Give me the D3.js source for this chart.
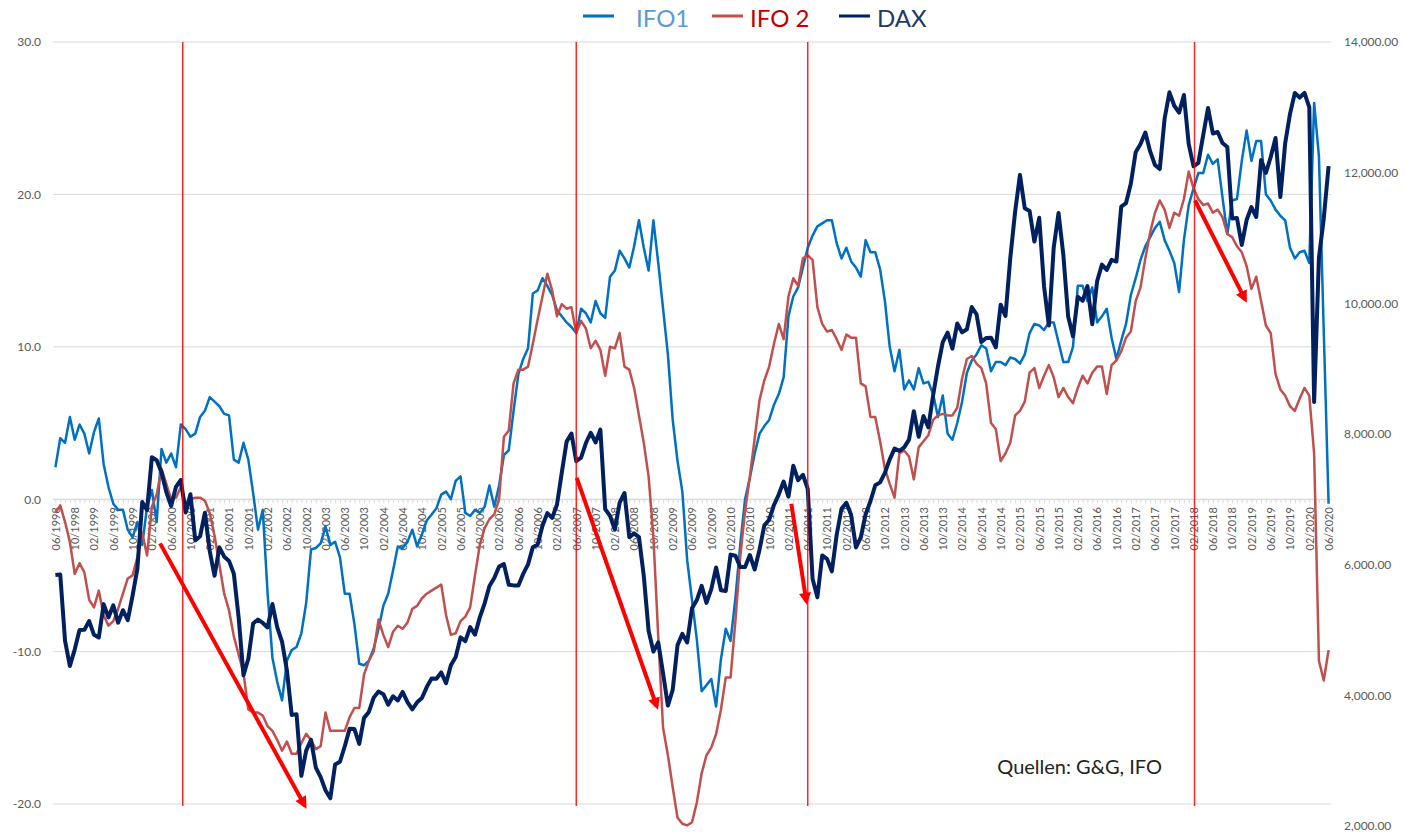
<!DOCTYPE html>
<html>
  <head>
    <meta charset="utf-8" />
    <style>
      body { margin: 0; background: #fff; }
      #chart { width: 1405px; height: 832px; }
      text { font-family: Lato, "Open Sans", sans-serif; }
      .axis text { fill: #595959; }
      .axis path, .axis line { stroke: #d9d9d9; }
    </style>
  </head>
  <body>
    <div id="chart"></div>
    <script src="https://d3js.org/d3.v7.min.js"></script>
    <script>
    // categories: monthly from 06/1998 to 06/2020
    var months = [];
    for (var y = 1998; y <= 2020; y++) {
      for (var m = 1; m <= 12; m++) {
        if ((y == 1998 && m < 6) || (y == 2020 && m > 6)) continue;
        months.push((m < 10 ? '0' + m : '' + m) + '/' + y);
      }
    }

    var ifo1 = [
      2.1,4.0,3.7,5.4,3.9,4.9,4.3,3.0,4.4,5.3,
      2.3,0.8,-0.3,-0.7,-0.7,-2.0,-2.5,-1.5,-3.0,-0.5,
      0.6,-1.5,3.3,2.4,3.0,2.1,4.9,4.6,4.1,4.3,
      5.4,5.8,6.7,6.4,6.1,5.6,5.5,2.6,2.4,3.7,
      2.6,0.4,-2.0,-0.7,-6.2,-10.4,-12.0,-13.2,-10.6,-9.9,
      -9.7,-8.8,-6.8,-3.3,-3.2,-2.9,-1.8,-3.0,-2.8,-3.8,
      -6.2,-6.2,-8.2,-10.8,-10.9,-10.6,-9.8,-8.5,-7.0,-6.2,
      -4.7,-3.1,-3.2,-2.8,-2.0,-3.1,-2.3,-1.4,-1.0,-0.6,
      0.3,0.5,0.0,1.2,1.5,-0.9,-1.1,-0.7,-0.9,-0.5,
      0.9,-0.5,0.9,2.9,3.2,5.8,8.2,9.2,9.9,13.5,
      13.7,14.5,14.0,13.4,12.4,12.0,11.6,11.3,10.9,12.5,
      12.2,11.6,13.0,12.2,11.9,14.6,15.0,16.3,15.8,15.2,
      16.6,18.3,16.5,15.0,18.3,15.5,12.5,9.5,5.2,2.5,
      0.5,-4.0,-6.6,-9.2,-12.6,-12.2,-11.8,-13.6,-10.5,-8.5,
      -9.3,-6.5,-3.0,0.0,1.4,3.0,4.3,4.8,5.2,6.2,
      6.9,8.0,12.0,13.3,13.9,15.2,16.5,17.3,17.9,18.1,
      18.3,18.3,16.8,15.8,16.5,15.6,15.2,14.6,17.0,16.2,
      16.2,15.1,13.0,10.0,8.4,9.8,7.2,7.8,7.2,8.6,
      7.6,7.7,6.9,5.4,6.8,4.3,3.9,5.0,6.4,8.3,
      9.1,9.5,10.1,9.9,8.4,9.0,9.0,8.8,9.3,9.2,
      8.9,9.5,10.9,11.5,11.4,11.1,11.6,11.6,10.3,9.0,
      9.0,10.0,14.0,14.0,13.0,13.9,11.6,12.0,12.5,10.6,
      9.2,10.4,11.5,13.4,14.5,15.7,16.6,17.2,17.8,18.2,
      17.0,16.3,15.5,13.6,17.0,19.3,20.4,21.4,21.4,22.6,
      22.0,22.3,19.8,17.4,19.6,19.7,22.2,24.2,22.2,23.5,
      23.5,20.0,19.6,19.0,18.6,18.3,16.5,15.8,16.2,16.3,
      15.5,26.0,22.5,11.0,-0.3
    ];

    var ifo2 = [
      -0.9,-0.4,-1.5,-2.8,-4.9,-4.2,-4.8,-6.6,-7.1,-6.0,
      -7.6,-8.3,-8.0,-7.2,-6.2,-5.2,-5.0,-3.8,-2.2,-3.7,
      -0.5,0.3,2.0,1.0,0.0,0.1,0.8,-0.3,0.0,0.1,
      0.1,-0.1,-0.9,-2.4,-4.3,-6.2,-7.3,-9.0,-10.2,-11.4,
      -13.8,-14.0,-14.0,-14.2,-14.9,-15.2,-15.8,-16.5,-15.9,-16.7,
      -16.7,-16.0,-15.4,-15.8,-16.4,-16.2,-14.0,-15.2,-15.2,-15.2,
      -15.2,-14.3,-13.7,-13.7,-11.5,-10.6,-10.0,-7.9,-8.9,-9.7,
      -8.7,-8.3,-8.5,-8.1,-7.2,-7.0,-6.5,-6.2,-6.0,-5.8,
      -5.6,-7.6,-8.9,-8.8,-8.0,-7.7,-7.1,-5.0,-3.0,-1.9,
      -1.3,-1.0,0.0,4.1,4.5,7.6,8.5,8.5,8.7,10.2,
      11.8,13.3,14.8,13.7,12.0,12.8,12.5,12.6,10.9,11.7,
      11.2,9.9,10.4,9.8,8.1,10.0,9.9,10.9,8.7,8.5,
      7.3,5.5,3.7,1.5,-2.5,-9.0,-15.0,-16.8,-18.9,-20.9,
      -21.3,-21.4,-21.2,-19.9,-18.0,-16.8,-16.3,-15.4,-13.8,-11.7,
      -11.7,-8.0,-3.8,-0.8,1.5,4.0,6.5,7.8,8.7,10.2,
      11.5,10.5,13.3,14.5,14.0,15.8,16.0,15.7,12.6,11.5,
      11.0,11.1,10.5,9.8,10.8,10.6,10.6,7.6,7.4,5.4,
      5.4,3.8,2.0,1.0,0.1,3.0,3.2,2.8,1.3,3.4,
      3.8,4.2,5.2,5.5,5.6,5.5,5.5,6.0,7.9,9.2,
      9.4,8.9,8.6,7.6,5.0,4.6,2.5,3.0,3.7,5.5,
      5.8,6.4,8.3,8.6,7.3,8.1,8.8,8.0,6.7,7.3,
      6.7,6.3,7.3,8.1,7.6,8.3,8.7,8.7,6.9,8.8,
      9.1,9.7,10.6,11.0,13.0,13.9,15.8,17.5,18.8,19.6,
      19.0,17.8,18.8,18.6,19.7,21.5,20.4,19.7,19.3,19.4,
      18.8,19.0,18.5,17.4,17.2,16.6,16.2,15.3,13.8,14.6,
      13.0,11.4,10.9,8.2,7.2,6.8,6.1,5.8,6.6,7.3,
      6.8,3.0,-10.6,-11.9,-9.9
    ];

    var dax = [
      5842,5850,4834,4450,4700,5000,5002,5137,4926,4884,
      5396,5193,5378,5112,5303,5150,5526,5939,6958,6835,
      7644,7599,7414,7110,6898,7192,7296,6798,7078,6372,
      6434,6795,6208,5830,6265,6123,6058,5861,5188,4308,
      4560,5100,5160,5108,5039,5397,5041,4818,4383,3700,
      3712,2769,3153,3320,2893,2748,2547,2424,2942,2983,
      3221,3487,3484,3257,3655,3746,3965,4058,4018,3856,
      3985,3921,4053,3895,3785,3893,3960,4126,4256,4255,
      4350,4185,4461,4587,4887,4830,5044,4929,5193,5408,
      5674,5797,5970,6009,5692,5683,5682,5859,6004,6268,
      6309,6597,6789,6716,6917,7409,7883,8007,7584,7638,
      7862,8019,7871,8067,6851,6748,6535,6949,7097,6418,
      6480,6422,5831,4988,4669,4810,4338,3843,4085,4769,
      4941,4809,5332,5458,5675,5415,5625,5957,5608,5598,
      6154,6136,5965,5966,6148,5925,6229,6601,6688,6914,
      7077,7272,7041,7514,7294,7376,7159,5785,5502,6141,
      6089,5898,6458,6856,6947,6761,6264,6416,6772,6971,
      7216,7260,7406,7612,7776,7741,7795,7914,8349,7959,
      8276,8103,8594,9033,9405,9552,9306,9692,9556,9603,
      9943,9833,9407,9470,9474,9327,9980,9806,10694,11402,
      11966,11454,11413,10945,11309,10259,9660,10850,11382,10743,
      9798,9495,10100,10039,10263,9680,10337,10593,10511,10665,
      10640,11481,11535,11834,12313,12438,12615,12325,12118,12056,
      12829,13230,13024,12918,13189,12436,12097,12150,12576,12990,
      12600,12622,12454,12392,11300,11306,10893,11275,11474,11321,
      12194,11995,12240,12530,11627,12450,12900,13220,13150,13220,
      13000,8490,10700,11300,12100
    ];

    var leftTicks = [-20, -10, 0, 10, 20, 30];
    var rightTicks = [2000, 4000, 6000, 8000, 10000, 12000, 14000];

    // red markers, in month index units
    var markerMonths = [26.4, 108, 156, 236.2];
    // arrows: [fromIndex, fromValue, toIndex, toValue] on the left axis
    var arrows = [
      [21.7, -2.9, 51.7, -20.1],
      [108.1, 1.4, 124.7, -13.6],
      [152.6, -0.3, 155.7, -6.7],
      [236.3, 19.6, 246.7, 13.1]
    ];

    var series = [
      { name: 'IFO1',  values: ifo1, axis: 'left',  color: '#0070c0', width: 2.5 },
      { name: 'IFO 2', values: ifo2, axis: 'left',  color: '#c0504d', width: 2.5 },
      { name: 'DAX',   values: dax,  axis: 'right', color: '#002060', width: 4 }
    ];

    var width = 1405,
        height = 832,
        left = 53,
        right = 1331;

    var x = d3.scalePoint()
      .domain(months)
      .range([left, right])
      .padding(0.5);

    // month index -> pixel, for annotations
    var xi = d3.scaleLinear()
      .domain([0, months.length - 1])
      .range([x(months[0]), x(months[months.length - 1])]);

    var yL = d3.scaleLinear().domain([-20, 30]).range([804, 42]);
    var yR = d3.scaleLinear().domain([2000, 14000]).range([826, 42]);

    var svg = d3.select('#chart')
      .append('svg')
      .attr('width', width)
      .attr('height', height);

    svg.append('rect').attr('width', width).attr('height', height).attr('fill', '#fff');

    // gridlines
    svg.append('g')
      .selectAll('line')
      .data(leftTicks)
      .enter().append('line')
      .attr('x1', left).attr('x2', right)
      .attr('y1', function(d) { return yL(d); })
      .attr('y2', function(d) { return yL(d); })
      .attr('stroke', '#d9d9d9')
      .attr('stroke-width', 1);

    // left axis
    svg.append('g')
      .attr('class', 'axis')
      .attr('transform', 'translate(' + left + ',0)')
      .call(d3.axisLeft(yL).tickValues(leftTicks).tickSize(0).tickPadding(12)
        .tickFormat(function(d) { return d.toFixed(1); }))
      .call(function(g) { g.select('.domain').remove(); })
      .selectAll('text').style('font-size', '12px');

    // right axis
    svg.append('g')
      .attr('class', 'axis')
      .attr('transform', 'translate(' + right + ',0)')
      .call(d3.axisRight(yR).tickValues(rightTicks).tickSize(0).tickPadding(13)
        .tickFormat(d3.format(',.2f')))
      .call(function(g) { g.select('.domain').remove(); })
      .selectAll('text').style('font-size', '12px');

    // category axis on the zero line
    var xAxis = svg.append('g')
      .attr('class', 'axis')
      .attr('transform', 'translate(0,' + yL(0) + ')')
      .call(d3.axisBottom(x).tickSize(4).tickSizeOuter(0)
        .tickFormat(function(d, i) { return i % 4 == 0 ? d : ''; }));

    xAxis.selectAll('text')
      .style('font-size', '11px')
      .attr('transform', 'rotate(-90)')
      .attr('text-anchor', 'end')
      .attr('x', -8)
      .attr('y', 0)
      .attr('dy', '0.35em');

    // series lines
    series.forEach(function(s) {
      var yScale = s.axis == 'left' ? yL : yR;
      var line = d3.line()
        .x(function(d, i) { return x(months[i]); })
        .y(function(d) { return yScale(d); });
      svg.append('path')
        .datum(s.values)
        .attr('d', line)
        .attr('fill', 'none')
        .attr('stroke', s.color)
        .attr('stroke-width', s.width)
        .attr('stroke-linejoin', 'round');
    });

    // red vertical markers
    svg.append('g')
      .selectAll('line')
      .data(markerMonths)
      .enter().append('line')
      .attr('x1', function(d) { return xi(d); })
      .attr('x2', function(d) { return xi(d); })
      .attr('y1', yL(30))
      .attr('y2', yL(-20) + 2)
      .attr('stroke', '#ff0000')
      .attr('stroke-opacity', 0.85)
      .attr('stroke-width', 1.5);

    // arrows
    svg.append('defs').append('marker')
      .attr('id', 'head')
      .attr('viewBox', '0 0 10 10')
      .attr('refX', 7)
      .attr('refY', 5)
      .attr('markerWidth', 3.2)
      .attr('markerHeight', 3)
      .attr('orient', 'auto')
      .append('path')
      .attr('d', 'M0,0L10,5L0,10z')
      .attr('fill', '#ff0000');

    svg.append('g')
      .selectAll('line')
      .data(arrows)
      .enter().append('line')
      .attr('x1', function(d) { return xi(d[0]); })
      .attr('y1', function(d) { return yL(d[1]); })
      .attr('x2', function(d) { return xi(d[2]); })
      .attr('y2', function(d) { return yL(d[3]); })
      .attr('stroke', '#ff0000')
      .attr('stroke-width', 4)
      .attr('marker-end', 'url(#head)');

    // legend
    var legendLine = [583, 712, 839],
        legendText = [636, 750, 877],
        legendColor = ['#5b9bd5', '#c00000', '#1f3864'];

    var legend = svg.append('g').attr('class', 'legend');
    series.forEach(function(s, i) {
      legend.append('line')
        .attr('x1', legendLine[i]).attr('x2', legendLine[i] + 31)
        .attr('y1', 16).attr('y2', 16)
        .attr('stroke', s.color)
        .attr('stroke-width', 3);
      legend.append('text')
        .attr('x', legendText[i])
        .attr('y', 27)
        .attr('fill', legendColor[i])
        .style('font-size', '24px')
        .text(s.name);
    });

    // source note
    svg.append('text')
      .attr('x', xi(195.3))
      .attr('y', yL(-18.0))
      .attr('fill', '#222')
      .style('font-size', '20px')
      .text('Quellen: G&G, IFO');
    </script>
  </body>
</html>
